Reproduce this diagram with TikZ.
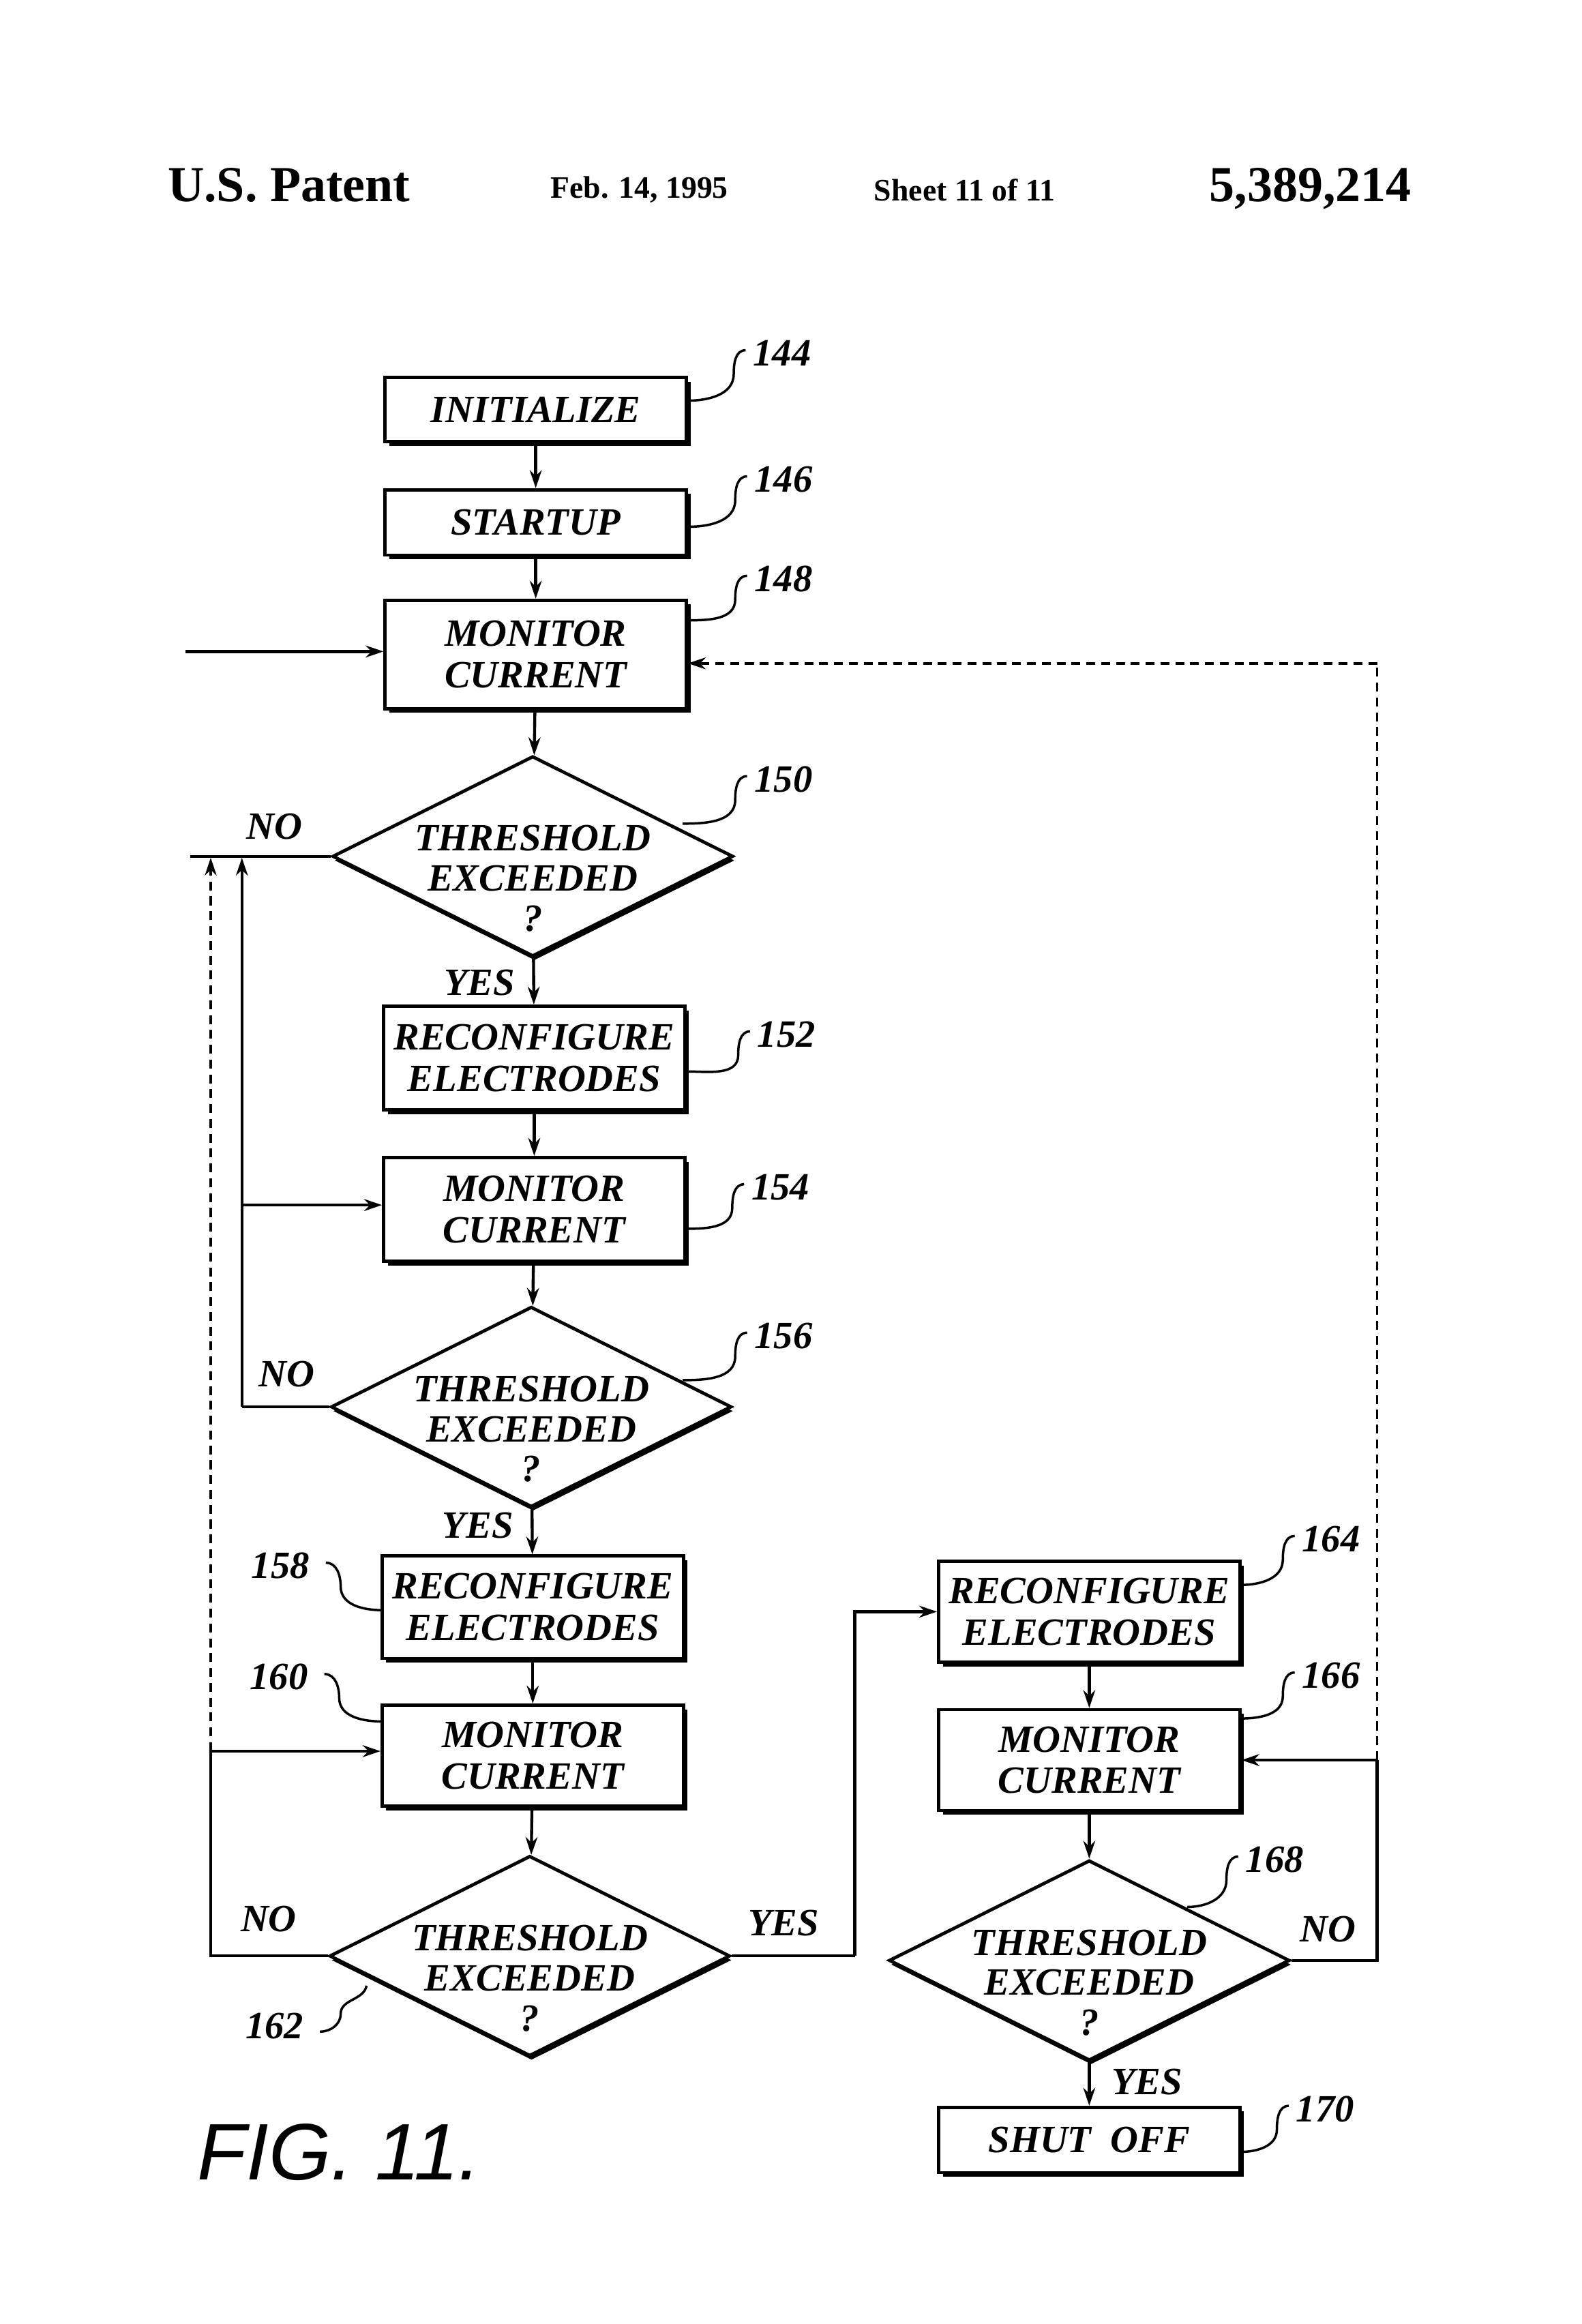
\documentclass[tikz,border=0pt]{standalone}
\usepackage{fontspec}
\setmainfont{Liberation Serif}
\newfontfamily\sfit{Liberation Sans}
\usetikzlibrary{shapes.geometric,shadows,arrows.meta,calc}
\begin{document}
\begin{tikzpicture}[x=0.5pt,y=-0.5pt,
 lbl/.style={font=\fontsize{13}{14}\selectfont\bfseries\itshape,align=center},
 box/.style={draw,line width=1.1pt,fill=white,inner sep=0pt,minimum width=101.5pt,
   drop shadow={shadow xshift=1.4pt,shadow yshift=-1.4pt,fill=black,opacity=1},
   font=\fontsize{13}{14}\selectfont\bfseries\itshape,align=center},
 dia/.style={draw,diamond,line width=1.1pt,fill=white,inner sep=0pt,minimum width=135pt,minimum height=67.5pt,
   drop shadow={shadow xshift=0.6pt,shadow yshift=-1.4pt,fill=black,opacity=1}},
 dt/.style={font=\fontsize{13}{13.5}\selectfont\bfseries\itshape,align=center},
 ln/.style={line width=1pt},
 ar/.style={line width=1pt,-{Stealth[length=6pt,width=4pt]}},
 da/.style={line width=0.8pt,dash pattern=on 3pt off 2pt},
 refn/.style={font=\fontsize{13}{14}\selectfont\bfseries\itshape},
 sq/.style={line width=0.8pt}]
\useasboundingbox (0,0) rectangle (1066,1566);
% header
\node[anchor=west,font=\fontsize{17}{20}\selectfont\bfseries] (h1) at (106,125) {U.S. Patent};
\node[anchor=west,font=\fontsize{10.5}{12}\selectfont\bfseries] (h2) at (364,128) {Feb. 14, 1995};
\node[anchor=west,font=\fontsize{10.5}{12}\selectfont\bfseries] (h3) at (582,128) {Sheet 11 of 11};
\node[anchor=west,font=\fontsize{17}{20}\selectfont\bfseries] (h4) at (808,127) {5,389,214};
% boxes
\node[box,minimum height=21.5pt] (b144) at (361,276) {INITIALIZE};
\node[box,minimum height=22pt] (b146) at (361,352) {STARTUP};
\node[box,minimum height=36.5pt] (b148) at (361,441) {MONITOR\\CURRENT};
\node[dia] (d150) at (359,577) {};
\node[dt] (t150) at (359,592) {THRESHOLD\\EXCEEDED\\?};
\node[box,minimum height=35pt] (b152) at (360,713) {RECONFIGURE\\ELECTRODES};
\node[box,minimum height=35pt] (b154) at (360,815) {MONITOR\\CURRENT};
\node[dia] (d156) at (358,948) {};
\node[dt] (t156) at (358,963) {THRESHOLD\\EXCEEDED\\?};
\node[box,minimum height=34.5pt] (b158) at (359,1083) {RECONFIGURE\\ELECTRODES};
\node[box,minimum height=34pt] (b160) at (359,1183) {MONITOR\\CURRENT};
\node[dia] (d162) at (357,1318) {};
\node[dt] (t162) at (357,1333) {THRESHOLD\\EXCEEDED\\?};
\node[box,minimum height=34pt] (b164) at (734,1086) {RECONFIGURE\\ELECTRODES};
\node[box,minimum height=34pt] (b166) at (734,1186) {MONITOR\\CURRENT};
\node[dia] (d168) at (734,1321) {};
\node[dt] (t168) at (734,1336) {THRESHOLD\\EXCEEDED\\?};
\node[box,minimum height=22pt] (b170) at (734,1442) {SHUT\ \ OFF};
% main arrows
\draw[ar] (b144) -- (b146);
\draw[ar] (b146) -- (b148);
\draw[ar] (b148) -- (d150);
\draw[ar] (d150) -- (b152);
\draw[ar] (b152) -- (b154);
\draw[ar] (b154) -- (d156);
\draw[ar] (d156) -- (b158);
\draw[ar] (b158) -- (b160);
\draw[ar] (b160) -- (d162);
\draw[ar] (b164) -- (b166);
\draw[ar] (b166) -- (d168);
\draw[ar] (d168) -- (b170);
% entry
\coordinate (e0) at (125,439);
\draw[ar] (e0) -- (e0 -| b148.west);
% 150 NO
\coordinate (n150) at (128,577);
\draw[ln] (d150.west) -- (n150);
% 156 NO
\coordinate (c156a) at (163,948);
\coordinate (c156b) at (163,578);
\coordinate (c154) at (163,812);
\draw[ln] (d156.west) -- (c156a);
\draw[ar] (c156a) -- (c156b);
\draw[ar] (c154) -- (c154 -| b154.west);
% 162 NO
\coordinate (c162a) at (142,1314);
\coordinate (c162b) at (142,1180);
\coordinate (c162c) at (142,578);
\draw[ln] (d162.west) -- (d162.west -| c162a) -- (c162b);
\draw[ar] (c162b) -- (c162b -| b160.west);
\draw[da,-{Stealth[length=6pt,width=4pt]}] (c162b) -- (c162c);
% 162 YES
\coordinate (y162) at (576,1318);
\draw[ln] (d162.east) -- (y162);
\draw[ar] (y162) -- (y162 |- b164.west) -- (b164.west);
% 168 NO
\coordinate (n168a) at (928,1321);
\coordinate (n168b) at (928,1186);
\coordinate (n168c) at (928,447);
\draw[ln] (d168.east) -- (n168a) -- (n168b);
\draw[ar] (n168b) -- (n168b -| b166.east);
\draw[da] (n168b) -- (n168c);
\draw[da,-{Stealth[length=6pt,width=4pt]}] (n168c) -- (n168c -| b148.east);
% branch labels
\node[lbl] (l1) at (185,557) {NO};
\node[lbl] (l2) at (323,662) {YES};
\node[lbl] (l3) at (193,926) {NO};
\node[lbl] (l4) at (322,1028) {YES};
\node[lbl] (l5) at (181,1293) {NO};
\node[lbl] (l6) at (528,1296) {YES};
\node[lbl] (l7) at (895,1300) {NO};
\node[lbl] (l8) at (773,1403) {YES};
% reference numerals (right side)
\foreach \sx/\sy/\lx/\ly/\t in {463/270/527/238/144, 463/355/528/323/146, 463/418/528/390/148,
  460/555/528/525/150, 463/722/530/697/152, 461/828/526/800/154, 460/930/528/900/156,
  836/1068/897/1037/164, 836/1158/897/1129/166, 800/1285/859/1253/168, 836/1450/893/1421/170}{
  \node[refn] (r\t) at (\lx,\ly) {\t};
  \coordinate (s\t) at (\sx,\sy);
  \draw[sq] (s\t) to[out=0,in=-90] ($(r\t.west)+(-6,14)$) to[out=90,in=180] ($(r\t.west)+(2,-2)$);
}
% reference numerals (left side)
\foreach \sx/\sy/\lx/\ly/\t in {258/1085/189/1055/158, 258/1160/188/1130/160}{
  \node[refn] (r\t) at (\lx,\ly) {\t};
  \coordinate (s\t) at (\sx,\sy);
  \draw[sq] (s\t) to[out=180,in=-90] ($(r\t.east)+(14,14)$) to[out=90,in=0] ($(r\t.east)+(4,-2)$);
}
\node[refn] (r162) at (185,1365) {162};
\coordinate (s162) at (247,1338);
\draw[sq] (s162) to[out=-100,in=90] ($(r162.east)+(18,-8)$) to[out=-90,in=0] ($(r162.east)+(4,4)$);
% figure label
\node[anchor=west,font=\fontsize{27}{30}\selectfont\sfit\itshape] (fig) at (126,1450) {FIG.\ 11.};
\end{tikzpicture}
\end{document}
